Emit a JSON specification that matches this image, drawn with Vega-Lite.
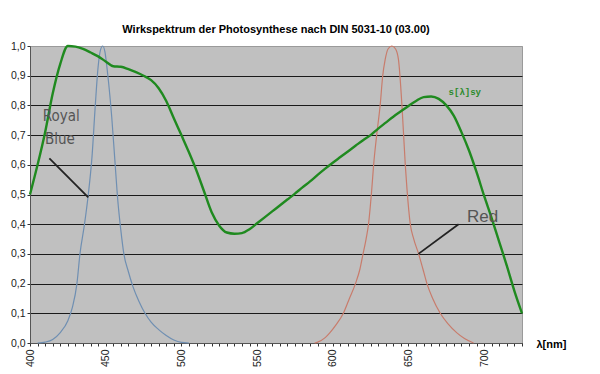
{
  "$schema": "https://vega.github.io/schema/vega-lite/v6.json",
  "width": 492,
  "height": 297,
  "autosize": {"type": "none"},
  "padding": {"left": 30, "top": 46, "right": 78, "bottom": 31},
  "background": "white",
  "title": {
    "text": "Wirkspektrum der Photosynthese nach DIN 5031-10 (03.00)",
    "font": "Liberation Sans", "fontSize": 11, "fontWeight": "bold", "color": "#000000",
    "anchor": "middle", "baseline": "alphabetic", "offset": -3
  },
  "config": {"view": {"fill": "#c0c0c0", "stroke": "#9a9a9a", "strokeWidth": 1}},
  "datasets": {
    "green": [
      {"nm": 400, "v": 0.50}, {"nm": 405, "v": 0.60}, {"nm": 410, "v": 0.71}, {"nm": 415, "v": 0.84},
      {"nm": 420, "v": 0.94}, {"nm": 425, "v": 1.0}, {"nm": 430, "v": 0.998}, {"nm": 435, "v": 0.99},
      {"nm": 440, "v": 0.978}, {"nm": 445, "v": 0.965}, {"nm": 450, "v": 0.948}, {"nm": 455, "v": 0.932},
      {"nm": 460, "v": 0.93}, {"nm": 465, "v": 0.922}, {"nm": 470, "v": 0.912}, {"nm": 475, "v": 0.90},
      {"nm": 480, "v": 0.885}, {"nm": 485, "v": 0.858}, {"nm": 490, "v": 0.815}, {"nm": 495, "v": 0.757},
      {"nm": 500, "v": 0.70}, {"nm": 505, "v": 0.642}, {"nm": 510, "v": 0.58}, {"nm": 515, "v": 0.51},
      {"nm": 520, "v": 0.44}, {"nm": 525, "v": 0.395}, {"nm": 530, "v": 0.372}, {"nm": 535, "v": 0.368},
      {"nm": 540, "v": 0.37}, {"nm": 545, "v": 0.383}, {"nm": 550, "v": 0.403}, {"nm": 555, "v": 0.423},
      {"nm": 560, "v": 0.443}, {"nm": 565, "v": 0.463}, {"nm": 570, "v": 0.483}, {"nm": 575, "v": 0.503},
      {"nm": 580, "v": 0.524}, {"nm": 585, "v": 0.544}, {"nm": 590, "v": 0.566}, {"nm": 595, "v": 0.587},
      {"nm": 600, "v": 0.607}, {"nm": 605, "v": 0.626}, {"nm": 610, "v": 0.645}, {"nm": 615, "v": 0.664},
      {"nm": 620, "v": 0.683}, {"nm": 625, "v": 0.70}, {"nm": 630, "v": 0.722}, {"nm": 635, "v": 0.742},
      {"nm": 640, "v": 0.762}, {"nm": 645, "v": 0.78}, {"nm": 650, "v": 0.798}, {"nm": 655, "v": 0.815},
      {"nm": 660, "v": 0.828}, {"nm": 665, "v": 0.83}, {"nm": 670, "v": 0.822}, {"nm": 675, "v": 0.80},
      {"nm": 680, "v": 0.765}, {"nm": 685, "v": 0.71}, {"nm": 690, "v": 0.648}, {"nm": 695, "v": 0.575},
      {"nm": 700, "v": 0.495}, {"nm": 705, "v": 0.42}, {"nm": 710, "v": 0.34}, {"nm": 715, "v": 0.26},
      {"nm": 720, "v": 0.175}, {"nm": 725, "v": 0.10}
    ],
    "blue": [
      {"nm": 405, "v": 0}, {"nm": 410, "v": 0.003}, {"nm": 415, "v": 0.012}, {"nm": 420, "v": 0.035},
      {"nm": 425, "v": 0.075}, {"nm": 428, "v": 0.12}, {"nm": 431, "v": 0.2}, {"nm": 433, "v": 0.3},
      {"nm": 436, "v": 0.4}, {"nm": 438.5, "v": 0.5}, {"nm": 441, "v": 0.63}, {"nm": 443, "v": 0.79},
      {"nm": 445, "v": 0.93}, {"nm": 446.5, "v": 0.985}, {"nm": 448, "v": 1.0}, {"nm": 449.5, "v": 0.98},
      {"nm": 451, "v": 0.92}, {"nm": 453, "v": 0.82}, {"nm": 454, "v": 0.76}, {"nm": 456, "v": 0.62},
      {"nm": 458, "v": 0.48}, {"nm": 460, "v": 0.38}, {"nm": 462, "v": 0.30}, {"nm": 465, "v": 0.24},
      {"nm": 468, "v": 0.19}, {"nm": 472, "v": 0.14}, {"nm": 476, "v": 0.10}, {"nm": 480, "v": 0.07},
      {"nm": 485, "v": 0.045}, {"nm": 490, "v": 0.025}, {"nm": 495, "v": 0.01}, {"nm": 500, "v": 0.002},
      {"nm": 505, "v": 0}
    ],
    "red": [
      {"nm": 588, "v": 0}, {"nm": 590, "v": 0.003}, {"nm": 595, "v": 0.018}, {"nm": 598, "v": 0.034},
      {"nm": 602, "v": 0.06}, {"nm": 607, "v": 0.10}, {"nm": 611, "v": 0.15}, {"nm": 615, "v": 0.20},
      {"nm": 618, "v": 0.25}, {"nm": 620, "v": 0.30}, {"nm": 622, "v": 0.35}, {"nm": 623.6, "v": 0.40},
      {"nm": 625.8, "v": 0.52}, {"nm": 627, "v": 0.6}, {"nm": 629, "v": 0.7}, {"nm": 631.3, "v": 0.8},
      {"nm": 633, "v": 0.9}, {"nm": 634.6, "v": 0.954}, {"nm": 636.5, "v": 0.99}, {"nm": 639, "v": 1.0},
      {"nm": 641.5, "v": 0.99}, {"nm": 643.4, "v": 0.954}, {"nm": 645.7, "v": 0.8}, {"nm": 647.9, "v": 0.6},
      {"nm": 649, "v": 0.52}, {"nm": 651.2, "v": 0.40}, {"nm": 653.5, "v": 0.35}, {"nm": 656.7, "v": 0.30},
      {"nm": 659.5, "v": 0.25}, {"nm": 662.2, "v": 0.20}, {"nm": 666, "v": 0.15}, {"nm": 671, "v": 0.10},
      {"nm": 676, "v": 0.065}, {"nm": 682, "v": 0.034}, {"nm": 687, "v": 0.015}, {"nm": 693, "v": 0}
    ],
    "pointers": [
      {"nm": 412.8, "v": 0.622, "nm2": 438.5, "v2": 0.49},
      {"nm": 683.1, "v": 0.40, "nm2": 656.6, "v2": 0.30}
    ]
  },
  "encoding": {
    "x": {
      "field": "nm", "type": "quantitative",
      "scale": {"domain": [400, 725], "nice": false, "zero": false},
      "axis": {
        "values": [400,405,410,415,420,425,430,435,440,445,450,455,460,465,470,475,480,485,490,495,500,505,510,515,520,525,530,535,540,545,550,555,560,565,570,575,580,585,590,595,600,605,610,615,620,625,630,635,640,645,650,655,660,665,670,675,680,685,690,695,700,705,710,715,720,725],
        "labelExpr": "datum.value % 50 === 0 ? datum.label : ''",
        "labelAngle": 270, "labelFont": "Liberation Sans", "labelFontSize": 10.5, "labelColor": "#222222",
        "labelOverlap": false, "labelFlush": false, "labelPadding": 3,
        "tickSize": 3, "tickColor": "#333333", "domainColor": "#555555", "grid": false,
        "title": "λ[nm]", "titleFont": "Liberation Sans", "titleFontSize": 11, "titleFontWeight": "bold",
        "titleColor": "#000000", "titleX": 506, "titleY": 1, "titleAlign": "left", "titleBaseline": "middle", "titleAngle": 0
      }
    },
    "y": {
      "field": "v", "type": "quantitative",
      "scale": {"domain": [0, 1], "nice": false},
      "axis": {
        "values": [0, 0.1, 0.2, 0.3, 0.4, 0.5, 0.6, 0.7, 0.8, 0.9, 1.0],
        "labelExpr": "replace(format(datum.value, '.1f'), '.', ',')",
        "labelFont": "Liberation Sans", "labelFontSize": 10.5, "labelColor": "#222222", "labelPadding": 2,
        "tickSize": 3, "tickColor": "#333333", "domainColor": "#555555",
        "grid": true, "gridWidth": 1,
        "gridColor": {"condition": {"test": "datum.value >= 0.99", "value": "#9a9a9a"}, "value": "#1a1a1a"},
        "title": null
      }
    }
  },
  "layer": [
    {"data": {"name": "blue"}, "mark": {"type": "line", "interpolate": "monotone", "color": "#6f8fb2", "strokeWidth": 1.2}},
    {"data": {"name": "red"}, "mark": {"type": "line", "interpolate": "monotone", "color": "#c87c6c", "strokeWidth": 1.2}},
    {"data": {"name": "green"}, "mark": {"type": "line", "interpolate": "monotone", "color": "#1f8a1f", "strokeWidth": 2.4}},
    {"data": {"name": "pointers"}, "mark": {"type": "rule", "color": "#222222", "strokeWidth": 1.8},
     "encoding": {"x2": {"field": "nm2"}, "y2": {"field": "v2"}}},
    {"data": {"values": [{"nm": 408.4, "v": 0.749, "label": "Royal"}, {"nm": 409.9, "v": 0.670, "label": "Blue"}]},
     "mark": {"type": "text", "align": "left", "baseline": "alphabetic", "font": "DejaVu Sans Condensed", "fontSize": 15, "color": "#555555"},
     "encoding": {"text": {"field": "label"}}},
    {"data": {"values": [{"nm": 688.6, "v": 0.408, "label": "Red"}]},
     "mark": {"type": "text", "align": "left", "baseline": "alphabetic", "font": "Liberation Sans", "fontSize": 17, "color": "#555555"},
     "encoding": {"text": {"field": "label"}}},
    {"data": {"values": [{"nm": 676.5, "v": 0.836, "label": "s[λ]sy"}]},
     "mark": {"type": "text", "align": "left", "baseline": "alphabetic", "font": "Liberation Mono", "fontSize": 9, "fontWeight": "bold", "color": "#2a8a2a"},
     "encoding": {"text": {"field": "label"}}}
  ]
}
